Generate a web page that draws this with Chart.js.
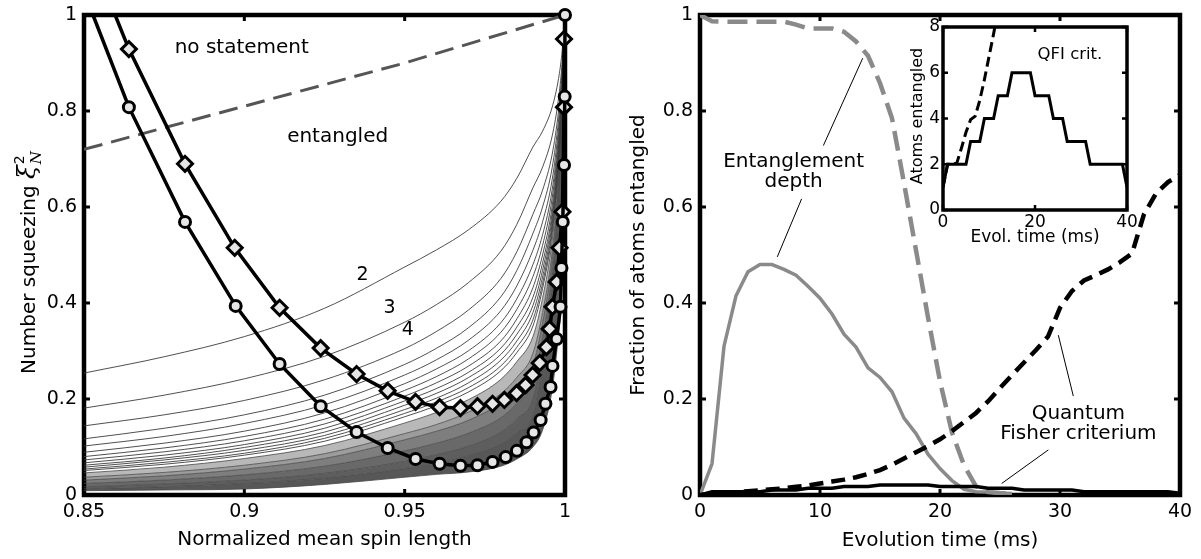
<!DOCTYPE html>
<html><head><meta charset="utf-8">
<script src="https://cdn.jsdelivr.net/npm/chart.js@4.4.0/dist/chart.umd.min.js"></script>
<style>
html,body{margin:0;padding:0;background:#fff;}
#wrap{position:relative;width:1201px;height:559px;overflow:hidden;background:#fff;}
canvas{position:absolute;}
</style></head><body>
<div id="wrap">
<canvas id="left" width="600" height="559" style="left:0;top:0;width:600px;height:559px"></canvas>
<canvas id="right" width="601" height="559" style="left:600px;top:0;width:601px;height:559px"></canvas>
<canvas id="inset" width="260" height="260" style="left:880px;top:0;width:260px;height:260px"></canvas>
</div>
<script>
// ---------------- LEFT PANEL DATA ----------------
const spinLength = [0.85,0.875,0.9,0.925,0.95,0.96,0.97,0.98,0.985,0.99,0.993,0.996,0.998,0.999,1.0];
const bound2  = [.254,.288,.330,.389,.475,.511,.553,.612,.660,.725,.758,.808,.868,.918,1];
const bound3  = [.181,.208,.242,.289,.360,.397,.443,.508,.564,.640,.683,.748,.827,.892,1];
const bound4  = [.144,.167,.197,.240,.305,.341,.386,.451,.507,.585,.635,.710,.801,.876,1];
const bound5  = [.117,.139,.167,.208,.272,.306,.349,.413,.468,.545,.600,.682,.782,.864,1];
const bound6  = [.102,.122,.149,.188,.250,.282,.323,.384,.436,.510,.569,.657,.765,.853,1];
const bound7  = [.089,.108,.133,.171,.232,.263,.301,.359,.409,.480,.542,.636,.750,.844,1];
const bound8  = [.080,.098,.122,.158,.218,.247,.284,.339,.387,.455,.520,.619,.738,.837,1];
const bound9  = [.073,.090,.113,.148,.206,.234,.269,.321,.367,.432,.500,.602,.727,.830,1];
const bound10 = [.067,.083,.105,.139,.196,.222,.256,.306,.350,.412,.483,.588,.718,.824,1];
const bound11 = [.062,.077,.099,.131,.187,.212,.245,.293,.335,.395,.468,.577,.710,.819,1];
const bound12 = [.058,.073,.093,.124,.178,.202,.234,.281,.321,.380,.454,.566,.702,.814,1];
const bound13 = [.054,.068,.087,.118,.170,.194,.224,.269,.308,.365,.441,.556,.695,.810,1];
const bound14 = [.051,.064,.083,.112,.163,.186,.215,.259,.297,.352,.430,.546,.689,.806,1];
const band16  = [.046,.058,.076,.103,.150,.172,.199,.241,.278,.330,.410,.531,.678,.799,1];
const band20  = [.037,.047,.062,.086,.128,.147,.173,.211,.245,.295,.380,.507,.662,.789,1];
const band25  = [.031,.040,.054,.076,.115,.133,.156,.192,.224,.270,.358,.489,.650,.781,1];
const band35  = [.024,.031,.042,.060,.092,.108,.129,.161,.191,.235,.327,.465,.633,.771,1];
const band50  = [.017,.023,.031,.045,.070,.084,.102,.131,.159,.200,.296,.440,.616,.760,1];
const band70  = [.013,.017,.024,.035,.055,.066,.082,.106,.130,.165,.265,.416,.599,.750,1];
const bandEdge= [.009,.0105,.0125,.022,.037,.043,.048,.060,.075,.100,.135,.220,.340,.450,1];

const noStatementX = [0.85,0.9,0.95,1.0];
const noStatementY = [0.72,0.81,0.90,1.0];

const circleX = [0.8528,0.864,0.8815,0.8973,0.911,0.9238,0.935,0.9447,0.9534,0.9609,0.9674,0.9727,0.9774,0.9815,0.985,0.988,0.9902,0.9924,0.9939,0.9955,0.9961,0.9974,0.9986,0.9989,0.9993,0.9997,0.9999,1.0];
const circleY = [1.0,0.808,0.569,0.394,0.273,0.185,0.131,0.098,0.075,0.065,0.061,0.062,0.069,0.079,0.092,0.110,0.130,0.156,0.190,0.225,0.269,0.325,0.392,0.473,0.569,0.6875,0.83,1.0];
const diamondX = [0.8597,0.864,0.8815,0.897,0.911,0.9238,0.935,0.9447,0.9534,0.9609,0.9674,0.9727,0.9774,0.9811,0.9849,0.9877,0.9899,0.9921,0.9942,0.9952,0.9961,0.9974,0.9983,0.9992,0.9997,0.9997];
const diamondY = [1.0,0.929,0.69,0.515,0.39,0.306,0.252,0.217,0.194,0.183,0.181,0.185,0.19,0.198,0.212,0.229,0.25,0.275,0.308,0.346,0.392,0.444,0.515,0.59,0.808,0.95];

const leftXTicks = [0.85,0.9,0.95,1.0];
const leftXLabels = ['0.85','0.9','0.95','1'];
const fracTicks = [0,0.2,0.4,0.6,0.8,1];
const fracLabels = ['0','0.2','0.4','0.6','0.8','1'];

// ---------------- RIGHT PANEL DATA ----------------
const evolTime = [0,1,2,3,4,5,6,7,8,9,10,11,12,13,14,15,16,17,18,19,20,21,22,23,24,25,26,27,28,29,30,31,32,33,34,35,36,37,38,39,40];
const depthSolid  = [0,0.065,0.31,0.415,0.465,0.48,0.48,0.47,0.458,0.435,0.41,0.377,0.335,0.308,0.265,0.245,0.215,0.16,0.128,0.085,0.055,0.03,0.012,0.007,0.006,0.004,0.003];
const depthDashed = [1,0.987,0.986,0.986,0.986,0.986,0.986,0.986,0.98,0.972,0.972,0.972,0.965,0.945,0.915,0.858,0.785,0.65,0.51,0.37,0.237,0.13,0.062,0.018,0.006,0.004,0.003];
const qfiDashed = [0,0.002,0.004,0.006,0.008,0.01,0.012,0.014,0.017,0.02,0.024,0.028,0.032,0.037,0.044,0.052,0.063,0.076,0.089,0.102,0.116,0.133,0.152,0.171,0.195,0.223,0.25,0.276,0.302,0.33,0.39,0.425,0.447,0.458,0.47,0.485,0.503,0.585,0.628,0.652,0.667];
const qfiSolid = [0,0.007,0.007,0.007,0.007,0.007,0.0105,0.0105,0.0105,0.014,0.014,0.014,0.0175,0.0175,0.0175,0.021,0.021,0.021,0.021,0.021,0.0175,0.0175,0.0175,0.0175,0.014,0.014,0.014,0.0105,0.0105,0.0105,0.0105,0.0105,0.007,0.007,0.007,0.007,0.007,0.007,0.007,0.007,0.0035];
const timeTicks = [0,10,20,30,40];
const timeLabels = ['0','10','20','30','40'];

// ---------------- INSET DATA ----------------
const insetAtoms  = [1,2,2,2,2,2,3,3,3,4,4,4,5,5,5,6,6,6,6,6,5,5,5,5,4,4,4,3,3,3,3,3,2,2,2,2,2,2,2,2,1];
const insetDashed = [1,2,2,2.05,2.7,3.4,3.95,4.1,4.8,5.7,6.7,7.7,8.8,10];
const insetXTicks = [0,20,40];
const insetXLabels = ['0','20','40'];
const insetYTicks = [0,2,4,6,8];
const insetYLabels = ['0','2','4','6','8'];

// ---------------- HELPERS ----------------
const FONT = '"DejaVu Sans", "Liberation Sans", sans-serif';
const pts = (xs, ys) => ys.map((y, i) => ({x: xs[i], y}));

function framePlugin(o) {
  return {
    id: 'frame_' + o.name,
    beforeDatasetsDraw(chart) {
      const ctx = chart.ctx, a = chart.chartArea, xs = chart.scales.x, ys = chart.scales.y;
      ctx.save();
      if (o.bg) { ctx.fillStyle = o.bg; ctx.fillRect(a.left, a.top, a.right - a.left, a.bottom - a.top); }
      ctx.strokeStyle = '#000'; ctx.lineWidth = o.tickW; ctx.beginPath();
      o.xTicks.forEach(v => { const p = xs.getPixelForValue(v);
        ctx.moveTo(p, a.bottom); ctx.lineTo(p, a.bottom - o.tickLen);
        ctx.moveTo(p, a.top); ctx.lineTo(p, a.top + o.tickLen); });
      o.yTicks.forEach(v => { const p = ys.getPixelForValue(v);
        ctx.moveTo(a.left, p); ctx.lineTo(a.left + o.tickLen, p);
        ctx.moveTo(a.right, p); ctx.lineTo(a.right - o.tickLen, p); });
      ctx.stroke();
      ctx.lineWidth = o.border;
      ctx.strokeRect(a.left, a.top, a.right - a.left, a.bottom - a.top);
      ctx.restore();
    },
    afterDraw(chart) {
      const ctx = chart.ctx, a = chart.chartArea, xs = chart.scales.x, ys = chart.scales.y;
      ctx.save(); ctx.fillStyle = '#000';
      ctx.font = o.tickFont;
      ctx.textAlign = 'center'; ctx.textBaseline = 'top';
      o.xTicks.forEach((v, i) => ctx.fillText(o.xLabels[i], xs.getPixelForValue(v), a.bottom + o.xGap));
      ctx.textAlign = 'right'; ctx.textBaseline = 'middle';
      o.yTicks.forEach((v, i) => ctx.fillText(o.yLabels[i], a.left - o.yGap, ys.getPixelForValue(v)));
      ctx.font = o.xTitleFont; ctx.textAlign = 'center'; ctx.textBaseline = 'middle';
      ctx.fillText(o.xTitle, (a.left + a.right) / 2, o.xTitleY);
      if (o.yTitleDraw) o.yTitleDraw(ctx, a);
      else {
        ctx.save(); ctx.translate(o.yTitleX, o.yTitleY); ctx.rotate(-Math.PI / 2);
        ctx.font = o.yTitleFont; ctx.textAlign = 'center'; ctx.textBaseline = 'middle';
        ctx.fillText(o.yTitle, 0, 0); ctx.restore();
      }
      (o.notes || []).forEach(n => {
        ctx.font = n.font; ctx.textAlign = 'center'; ctx.textBaseline = 'middle';
        ctx.fillText(n.text, xs.getPixelForValue(n.x), ys.getPixelForValue(n.y));
      });
      ctx.strokeStyle = '#000'; ctx.lineWidth = 1;
      (o.leaders || []).forEach(l => {
        ctx.beginPath();
        ctx.moveTo(xs.getPixelForValue(l[0]), ys.getPixelForValue(l[1]));
        ctx.lineTo(xs.getPixelForValue(l[2]), ys.getPixelForValue(l[3]));
        ctx.stroke();
      });
      ctx.restore();
    }
  };
}

function baseOptions(pad, xmin, xmax, ymin, ymax) {
  return {
    responsive: false, animation: false, events: [],
    layout: {padding: pad},
    scales: {
      x: {type: 'linear', min: xmin, max: xmax, display: false},
      y: {type: 'linear', min: ymin, max: ymax, display: false}
    },
    plugins: {legend: {display: false}, tooltip: {enabled: false}, filler: {drawTime: 'beforeDatasetsDraw'}},
    elements: {point: {radius: 0}}
  };
}

// ---------------- LEFT CHART ----------------
const thinCurves = [bound2, bound3, bound4, bound5, bound6, bound7, bound8, bound9, bound10, bound11, bound12, bound13, bound14];
const denseBands = [band16, band20, band25, band35, band50, band70, bandEdge];
const denseFills = ['#b8b8b8', '#9c9c9c', '#7e7e7e', '#696969', '#5e5e5e', '#575757', null];

const leftDatasets = [];
leftDatasets.push({
  data: pts(circleX, circleY), borderColor: '#000', borderWidth: 3.5, order: 0, clip: 12,
  pointStyle: 'circle', pointRadius: circleX.map((v, i) => i === 0 ? 0 : 5.5),
  pointBorderWidth: 3, pointBorderColor: '#000', pointBackgroundColor: '#e6e6e6', tension: 0
});
leftDatasets.push({
  data: pts(diamondX, diamondY), borderColor: '#000', borderWidth: 3.5, order: 1, clip: 12,
  pointStyle: 'rectRot', pointRadius: diamondX.map((v, i) => i === 0 ? 0 : 7.5),
  pointBorderWidth: 3, pointBorderColor: '#000', pointBackgroundColor: '#e6e6e6', tension: 0
});
leftDatasets.push({
  data: pts(noStatementX, noStatementY), borderColor: '#555', borderWidth: 3, borderDash: [19, 9], order: 2, pointRadius: 0
});
thinCurves.forEach(c => leftDatasets.push({
  data: pts(spinLength, c), borderColor: '#3c3c3c', borderWidth: 0.9, order: 3, pointRadius: 0,
  cubicInterpolationMode: 'monotone'
}));
const firstBand = leftDatasets.length;
denseBands.forEach((c, i) => leftDatasets.push({
  data: pts(spinLength, c), borderColor: '#474747', borderWidth: 0.8, order: 4, pointRadius: 0,
  cubicInterpolationMode: 'monotone',
  fill: denseFills[i] ? {target: firstBand + i + 1} : false,
  backgroundColor: denseFills[i] || 'rgba(0,0,0,0)'
}));

function drawLeftYTitle(ctx) {
  const cx = 28, cy = 262;
  ctx.save(); ctx.translate(cx, cy); ctx.rotate(-Math.PI / 2);
  ctx.textAlign = 'left'; ctx.textBaseline = 'alphabetic';
  const f1 = '20px ' + FONT, fx = 'italic 25px "DejaVu Serif", serif', f2 = '14px ' + FONT, fs = 'italic 15px "DejaVu Serif", serif';
  const t1 = 'Number squeezing ';
  ctx.font = f1; const w1 = ctx.measureText(t1).width;
  ctx.font = fx; const wx = ctx.measureText('ξ').width;
  ctx.font = fs; const ws = ctx.measureText('N').width;
  const W = w1 + wx + ws + 2;
  let x = -W / 2;
  ctx.font = f1; ctx.fillText(t1, x, 7); x += w1;
  ctx.font = fx; ctx.fillText('ξ', x, 7); x += wx + 1;
  ctx.font = f2; ctx.fillText('2', x, -4);
  ctx.font = fs; ctx.fillText('N', x, 13);
  ctx.restore();
}

new Chart(document.getElementById('left'), {
  type: 'line',
  data: {datasets: leftDatasets},
  options: baseOptions({left: 84, right: 35, top: 15, bottom: 64}, 0.85, 1.0, 0, 1),
  plugins: [framePlugin({
    name: 'left', tickW: 3, tickLen: 6, border: 4.5,
    xTicks: leftXTicks, xLabels: leftXLabels, yTicks: fracTicks, yLabels: fracLabels,
    tickFont: '19px ' + FONT, xGap: 8, yGap: 7,
    xTitle: 'Normalized mean spin length', xTitleFont: '20px ' + FONT, xTitleY: 540,
    yTitleDraw: drawLeftYTitle,
    notes: [
      {text: 'no statement', x: 0.8992, y: 0.931, font: '20px ' + FONT},
      {text: 'entangled', x: 0.9291, y: 0.746, font: '20px ' + FONT},
      {text: '2', x: 0.9369, y: 0.458, font: '19px ' + FONT},
      {text: '3', x: 0.9453, y: 0.39, font: '19px ' + FONT},
      {text: '4', x: 0.951, y: 0.344, font: '19px ' + FONT}
    ]
  })]
});

// ---------------- RIGHT CHART ----------------
new Chart(document.getElementById('right'), {
  type: 'line',
  data: {datasets: [
    {data: pts(evolTime, qfiSolid), borderColor: '#000', borderWidth: 3.5, pointRadius: 0, order: 0},
    {data: pts(evolTime, qfiDashed), borderColor: '#000', borderWidth: 4.5, borderDash: [14, 8], pointRadius: 0, order: 1},
    {data: pts(evolTime, depthDashed), borderColor: '#8a8a8a', borderWidth: 4.5, borderDash: [20, 9], pointRadius: 0, order: 2},
    {data: pts(evolTime, depthSolid), borderColor: '#8a8a8a', borderWidth: 3.5, pointRadius: 0, order: 3}
  ]},
  options: baseOptions({left: 100, right: 21, top: 15, bottom: 64}, 0, 40, 0, 1),
  plugins: [framePlugin({
    name: 'right', tickW: 3, tickLen: 6, border: 4.5,
    xTicks: timeTicks, xLabels: timeLabels, yTicks: fracTicks, yLabels: fracLabels,
    tickFont: '19px ' + FONT, xGap: 8, yGap: 7,
    xTitle: 'Evolution time (ms)', xTitleFont: '20px ' + FONT, xTitleY: 541,
    yTitle: 'Fraction of atoms entangled', yTitleFont: '20px ' + FONT, yTitleX: 39, yTitleY: 255,
    notes: [
      {text: 'Entanglement', x: 7.8, y: 0.695, font: '20px ' + FONT},
      {text: 'depth', x: 7.8, y: 0.653, font: '20px ' + FONT},
      {text: 'Quantum', x: 31.53, y: 0.17, font: '20px ' + FONT},
      {text: 'Fisher criterium', x: 31.53, y: 0.128, font: '20px ' + FONT}
    ],
    leaders: [[10.28, 0.728, 13.56, 0.91], [8.47, 0.617, 6.44, 0.496], [29.86, 0.333, 31.11, 0.206], [29.03, 0.094, 25.14, 0.024]]
  })]
});

// ---------------- INSET ----------------
new Chart(document.getElementById('inset'), {
  type: 'line',
  data: {datasets: [
    {data: pts(evolTime, insetAtoms), borderColor: '#000', borderWidth: 3, pointRadius: 0, order: 0},
    {data: pts(evolTime, insetDashed), borderColor: '#000', borderWidth: 3, borderDash: [10, 5], pointRadius: 0, order: 1}
  ]},
  options: baseOptions({left: 63, right: 13, top: 27, bottom: 50}, 0, 40, 0, 8),
  plugins: [framePlugin({
    name: 'inset', tickW: 2.5, tickLen: 5, border: 3.5, bg: '#fff',
    xTicks: insetXTicks, xLabels: insetXLabels, yTicks: insetYTicks, yLabels: insetYLabels,
    tickFont: '17px ' + FONT, xGap: 4, yGap: 3,
    xTitle: 'Evol. time (ms)', xTitleFont: '17px ' + FONT, xTitleY: 238,
    yTitle: 'Atoms entangled', yTitleFont: '16px ' + FONT, yTitleX: 38, yTitleY: 116,
    notes: [{text: 'QFI crit.', x: 27.6, y: 6.78, font: '16.5px ' + FONT}]
  })]
});
</script>
</body></html>
